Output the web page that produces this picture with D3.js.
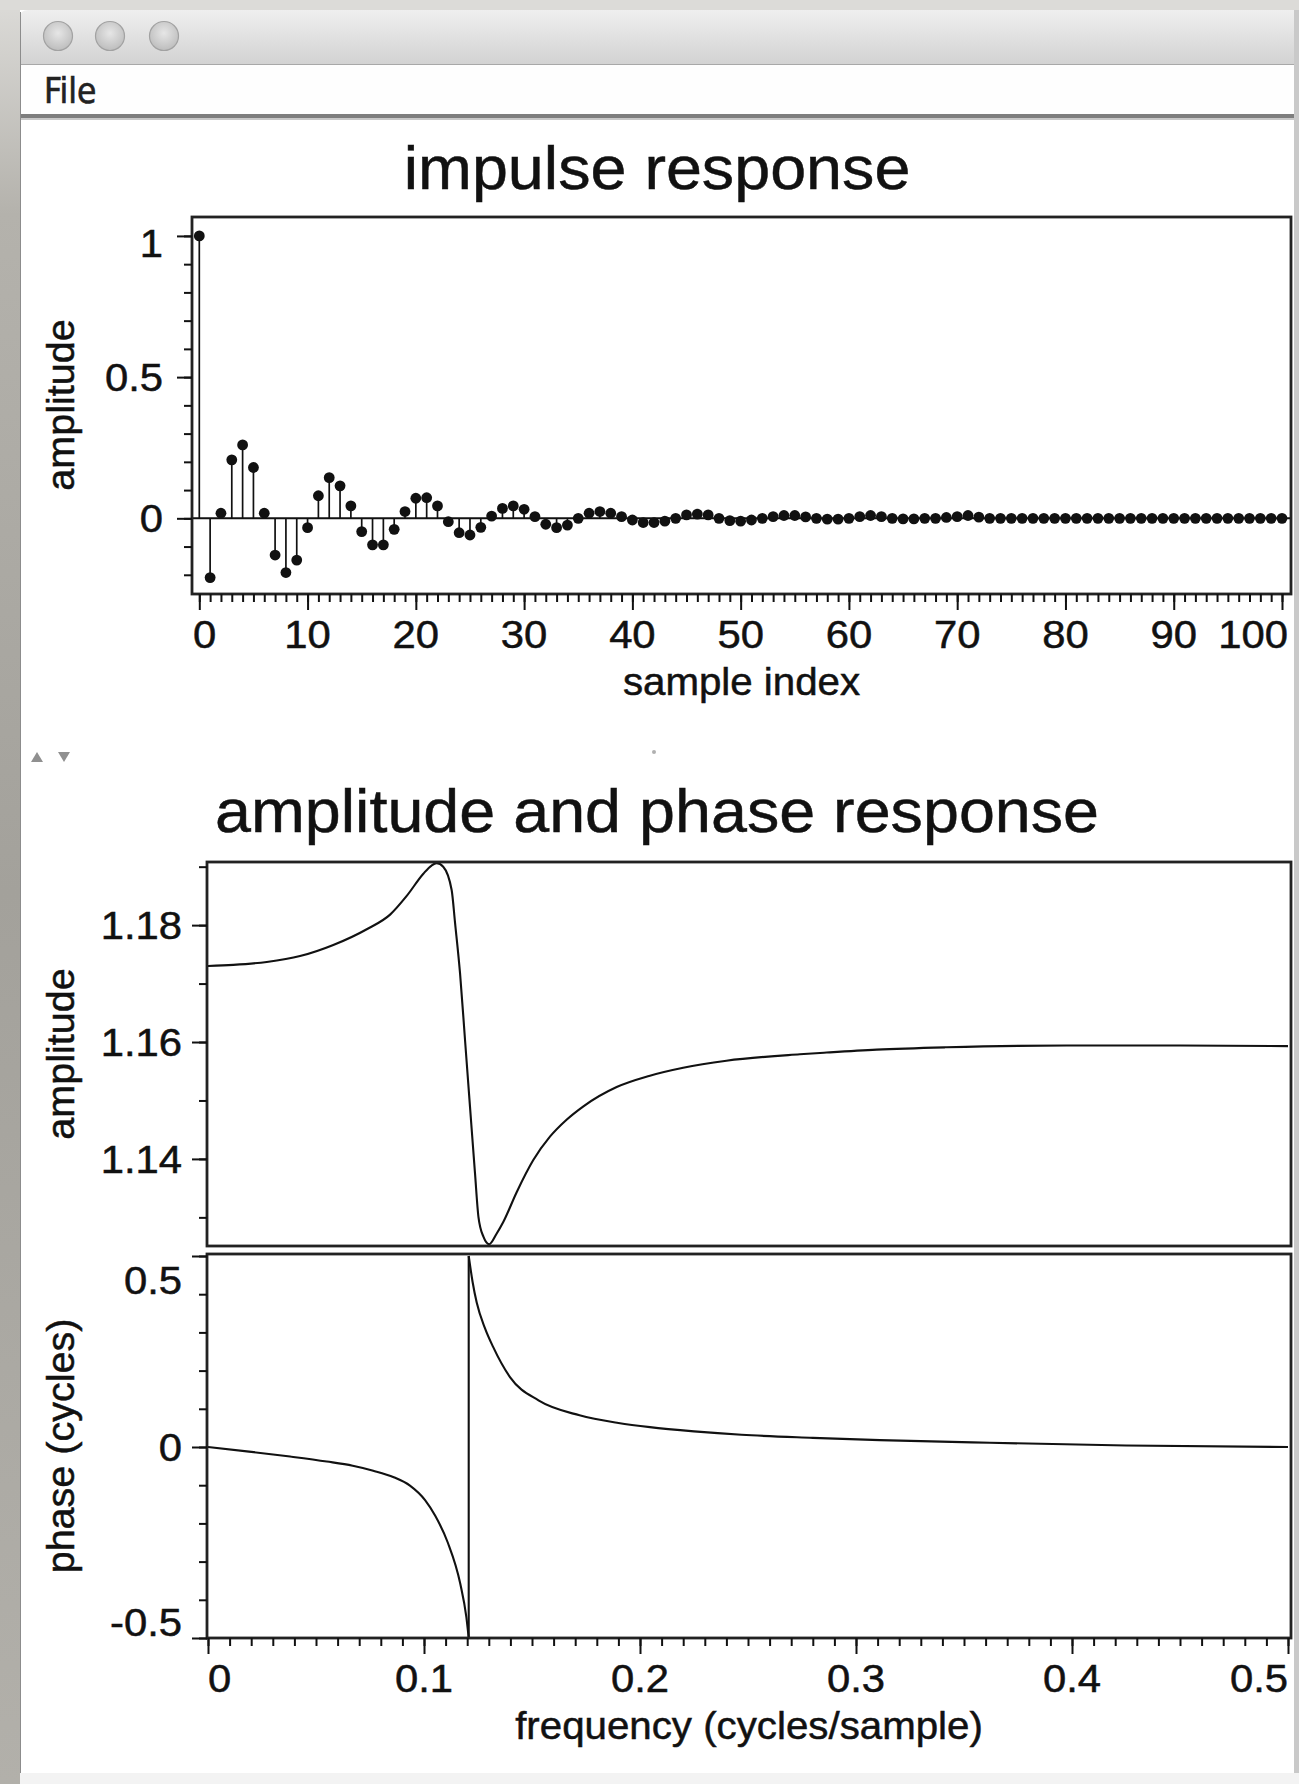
<!DOCTYPE html>
<html>
<head>
<meta charset="utf-8">
<script src="https://cdn.jsdelivr.net/npm/d3@7"></script>
<style>
  html, body { margin: 0; padding: 0; background: #fff; }
  svg { display: block; }
</style>
</head>
<body>
<div id="chart"></div>
<script>
// ---- impulse response (sample 0..100) ----
const sampleIdx = d3.range(0, 101);
const impulse = [
  1.0, -0.21, 0.018, 0.207, 0.26, 0.18, 0.018, -0.13, -0.192, -0.148,
  -0.033, 0.08, 0.144, 0.115, 0.044, -0.047, -0.094, -0.094, -0.039, 0.024,
  0.071, 0.073, 0.044, -0.012, -0.051, -0.059, -0.032, 0.008, 0.035, 0.044,
  0.032, 0.006, -0.021, -0.033, -0.024, 0.0, 0.018, 0.024, 0.018, 0.006,
  -0.006, -0.015, -0.015, -0.01, 0.0, 0.012, 0.015, 0.012, 0.0, -0.008,
  -0.01, -0.006, 0.0, 0.006, 0.01, 0.01, 0.005, 0.0, -0.003, -0.003,
  0.0, 0.006, 0.01, 0.006, 0.0, -0.002, -0.002, 0.0, 0.0, 0.003,
  0.006, 0.01, 0.004, 0.0, 0.0, 0.0, 0.0, 0.0, 0.0, 0.0,
  0.0, 0.0, 0.0, 0.0, 0.0, 0.0, 0.0, 0.0, 0.0, 0.0,
  0.0, 0.0, 0.0, 0.0, 0.0, 0.0, 0.0, 0.0, 0.0, 0.0, 0.0
];
const impulseYMajor = [0, 0.5, 1];
const impulseYMinor = [-0.2, -0.1, 0, 0.1, 0.2, 0.3, 0.4, 0.5, 0.6, 0.7, 0.8, 0.9, 1.0];
const impulseXMajor = [0, 10, 20, 30, 40, 50, 60, 70, 80, 90, 100];

// ---- amplitude response ----
const ampFreq = [0, 0.0117, 0.0272, 0.0426, 0.058, 0.0735, 0.0843, 0.092, 0.0997, 0.1035,
  0.1059, 0.1089, 0.1128, 0.1144, 0.1167, 0.119, 0.1213, 0.1236, 0.1252, 0.1275,
  0.1302, 0.1336, 0.1367, 0.1429, 0.1506, 0.1583, 0.166, 0.1738, 0.1892, 0.2042,
  0.22, 0.24, 0.274, 0.2864, 0.3096, 0.342, 0.3975, 0.45, 0.5];
const ampValue = [1.1730, 1.1732, 1.1737, 1.1747, 1.1766, 1.1793, 1.1818, 1.1850, 1.1888, 1.1902,
  1.1906, 1.1900, 1.1860, 1.1803, 1.1717, 1.1603, 1.1489, 1.1376, 1.1301, 1.1267,
  1.1254, 1.1272, 1.1292, 1.1343, 1.1398, 1.1438, 1.1467, 1.1490, 1.1523, 1.1542,
  1.1556, 1.1568, 1.1579, 1.1582, 1.1587, 1.1591, 1.1594, 1.1594, 1.1593];
const ampYMajor = [1.14, 1.16, 1.18];
const ampYMinor = [1.13, 1.14, 1.15, 1.16, 1.17, 1.18, 1.19];

// ---- phase response (two branches, wrapped at +-0.5 cycles) ----
const phaseFreqA = [0, 0.019, 0.038, 0.055, 0.067, 0.0765, 0.086, 0.0935, 0.1005, 0.1052, 0.111, 0.1168, 0.1196, 0.1207];
const phaseA = [0, -0.012, -0.025, -0.038, -0.049, -0.062, -0.079, -0.101, -0.139, -0.180, -0.25, -0.358, -0.445, -0.5];
const phaseFreqB = [0.1207, 0.1225, 0.1244, 0.1283, 0.132, 0.1398, 0.153, 0.172, 0.19, 0.2046, 0.225, 0.247, 0.28, 0.311, 0.362, 0.425, 0.5];
const phaseB = [0.5, 0.432, 0.378, 0.31, 0.262, 0.183, 0.122, 0.083, 0.063, 0.052, 0.041, 0.032, 0.024, 0.018, 0.011, 0.004, 0.0];
const phaseYMajor = [-0.5, 0, 0.5];
const phaseYMinor = [-0.5, -0.4, -0.3, -0.2, -0.1, 0, 0.1, 0.2, 0.3, 0.4, 0.5];
const freqMajor = [0, 0.1, 0.2, 0.3, 0.4, 0.5];
const freqMinor = d3.range(0, 51).map(i => i / 100);

const W = 1299, H = 1784;
const FONT = "'Liberation Sans', Arial, Helvetica, sans-serif";
const INK = "#111";

const svg = d3.select("#chart").append("svg")
  .attr("width", W).attr("height", H);

// ---------- window chrome ----------
const defs = svg.append("defs");
const desk = defs.append("linearGradient").attr("id", "desk").attr("x1", 0).attr("y1", 0).attr("x2", 0).attr("y2", 1);
desk.append("stop").attr("offset", 0).attr("stop-color", "#dcdbd8");
desk.append("stop").attr("offset", 0.12).attr("stop-color", "#b4b2ac");
desk.append("stop").attr("offset", 0.5).attr("stop-color", "#a3a19b");
desk.append("stop").attr("offset", 1).attr("stop-color", "#b2b0aa");
const bar = defs.append("linearGradient").attr("id", "bar").attr("x1", 0).attr("y1", 0).attr("x2", 0).attr("y2", 1);
bar.append("stop").attr("offset", 0).attr("stop-color", "#efefef");
bar.append("stop").attr("offset", 1).attr("stop-color", "#d2d2d2");
const knob = defs.append("radialGradient").attr("id", "knob").attr("cx", 0.5).attr("cy", 0.4).attr("r", 0.6);
knob.append("stop").attr("offset", 0).attr("stop-color", "#e6e6e6");
knob.append("stop").attr("offset", 1).attr("stop-color", "#bdbdbd");

svg.append("rect").attr("width", W).attr("height", H).attr("fill", "#fff");
svg.append("rect").attr("x", 0).attr("y", 0).attr("width", 20).attr("height", H).attr("fill", "url(#desk)");
svg.append("rect").attr("x", 0).attr("y", 0).attr("width", W).attr("height", 10).attr("fill", "#dcdbd8");
svg.append("path")
  .attr("d", `M20,65 L20,18 Q20,10 28,10 L${W},10 L${W},65 Z`)
  .attr("fill", "url(#bar)");
svg.append("line").attr("x1", 20).attr("x2", W).attr("y1", 64.5).attr("y2", 64.5).attr("stroke", "#a8a8a8");
[58, 110, 164].forEach(cx => {
  svg.append("circle").attr("cx", cx).attr("cy", 36).attr("r", 14.5)
    .attr("fill", "url(#knob)").attr("stroke", "#a2a2a2").attr("stroke-width", 1.2);
});
svg.append("rect").attr("x", 20).attr("y", 65).attr("width", W - 20).attr("height", 49).attr("fill", "#fefefe");
svg.append("text").attr("x", 44).attr("y", 103)
  .attr("font-family", "'DejaVu Sans Condensed', 'DejaVu Sans', sans-serif")
  .attr("font-size", 35).attr("fill", "#222")
  .attr("stroke", "#222").attr("stroke-width", 0.6)
  .text("File");
svg.append("rect").attr("x", 20).attr("y", 114).attr("width", W - 20).attr("height", 4).attr("fill", "#7e7e7e");
svg.append("rect").attr("x", 20).attr("y", 118).attr("width", W - 20).attr("height", 2).attr("fill", "#c8c8c8");
svg.append("line").attr("x1", 20.5).attr("x2", 20.5).attr("y1", 12).attr("y2", 1774).attr("stroke", "#8c8c8c");
svg.append("rect").attr("x", 1294).attr("y", 10).attr("width", 5).attr("height", 1764).attr("fill", "#c9c9c9");
svg.append("rect").attr("x", 20).attr("y", 1773).attr("width", W - 20).attr("height", 11).attr("fill", "#f3f3f3");
// splitter arrows
svg.append("path").attr("d", "M31,762 L37,752 L43,762 Z").attr("fill", "#909090");
svg.append("path").attr("d", "M58,752 L70,752 L64,762 Z").attr("fill", "#909090");
svg.append("circle").attr("cx", 654).attr("cy", 752).attr("r", 2).attr("fill", "#b0b0b0");

// ---------- helpers ----------
function addText(g, x, y, str, size, anchor, sx) {
  return g.append("text")
    .attr("transform", `translate(${x},${y}) scale(${sx},1)`)
    .attr("text-anchor", anchor)
    .attr("font-family", FONT)
    .attr("font-size", size)
    .attr("fill", INK)
    .attr("stroke", INK).attr("stroke-width", 0.5)
    .text(str);
}

const TICK_FS = 38, TICK_SX = 1.1;
// plain hyphen for negatives, as in the original
const numFmt = v => (v === 0 ? "0" : String(v));

function frameAxes(g, p) {
  g.append("g").attr("transform", `translate(${p.L},0)`)
    .call(d3.axisLeft(p.y).tickValues(p.yMinor).tickSize(8).tickFormat(""))
    .call(a => a.select(".domain").remove())
    .call(a => a.selectAll("line").attr("stroke", INK).attr("stroke-width", 2));
  g.append("g").attr("transform", `translate(${p.L},0)`)
    .call(d3.axisLeft(p.y).tickValues(p.yMajor).tickSize(15).tickFormat(""))
    .call(a => a.select(".domain").remove())
    .call(a => a.selectAll("line").attr("stroke", INK).attr("stroke-width", 2));
  // y labels, kept inside the frame's vertical span
  p.yMajor.forEach(v => {
    let base = p.y(v) + 0.358 * TICK_FS;
    if (base - 0.716 * TICK_FS < p.T + 13) base = p.T + 13 + 0.716 * TICK_FS;
    if (base > p.B - 2) base = p.B - 2;
    addText(g, p.L - p.labelGap, base, p.yFmt(v), TICK_FS, "end", TICK_SX);
  });
  if (p.xMinor) {
    g.append("g").attr("transform", `translate(0,${p.B})`)
      .call(d3.axisBottom(p.x).tickValues(p.xMinor).tickSize(8).tickFormat(""))
      .call(a => a.select(".domain").remove())
      .call(a => a.selectAll("line").attr("stroke", INK).attr("stroke-width", 2));
    g.append("g").attr("transform", `translate(0,${p.B})`)
      .call(d3.axisBottom(p.x).tickValues(p.xMajor).tickSize(16).tickFormat(""))
      .call(a => a.select(".domain").remove())
      .call(a => a.selectAll("line").attr("stroke", INK).attr("stroke-width", 2));
    p.xMajor.forEach(v => {
      const t = addText(g, 0, 0, p.xFmt(v), TICK_FS, "middle", TICK_SX);
      const w = t.node().getComputedTextLength() * TICK_SX;
      let cx = p.x(v);
      if (cx - w / 2 < p.L + 1) cx = p.L + 1 + w / 2;
      if (cx + w / 2 > p.R - 3) cx = p.R - 3 - w / 2;
      t.attr("transform", `translate(${cx},${p.B + 54}) scale(${TICK_SX},1)`);
    });
  }
}

function frameBox(g, p) {
  g.append("rect").attr("x", p.L).attr("y", p.T)
    .attr("width", p.R - p.L).attr("height", p.B - p.T)
    .attr("fill", "none").attr("stroke", "#222").attr("stroke-width", 2.8);
}

function yLabel(g, cy, str) {
  g.append("text")
    .attr("transform", `translate(74,${cy}) rotate(-90) scale(1.04,1)`)
    .attr("text-anchor", "middle")
    .attr("font-family", FONT).attr("font-size", 38).attr("fill", INK)
    .attr("stroke", INK).attr("stroke-width", 0.5)
    .text(str);
}

const g = svg.append("g");

// ---------- impulse response ----------
addText(g, 657, 189, "impulse response", 61, "middle", 1.06);

const P1 = {
  L: 192, R: 1291, T: 217, B: 594, labelGap: 29,
  x: d3.scaleLinear().domain([0, 100]).range([199.3, 1282]),
  y: d3.scaleLinear().domain([-0.268, 1.067]).range([594, 217]),
  yMajor: impulseYMajor, yMinor: impulseYMinor,
  xMajor: impulseXMajor, xMinor: sampleIdx,
  yFmt: numFmt, xFmt: numFmt
};
const imp = sampleIdx.map((i) => ({ n: i, v: impulse[i] }));
g.append("line")
  .attr("x1", P1.L).attr("x2", P1.R)
  .attr("y1", P1.y(0)).attr("y2", P1.y(0))
  .attr("stroke", INK).attr("stroke-width", 2);
g.append("g").selectAll("line").data(imp).join("line")
  .attr("x1", d => P1.x(d.n)).attr("x2", d => P1.x(d.n))
  .attr("y1", P1.y(0)).attr("y2", d => P1.y(d.v))
  .attr("stroke", INK).attr("stroke-width", 1.7);
g.append("g").selectAll("circle").data(imp).join("circle")
  .attr("cx", d => P1.x(d.n)).attr("cy", d => P1.y(d.v))
  .attr("r", 5.4).attr("fill", INK);
frameBox(g, P1);
frameAxes(g, P1);
addText(g, 741.5, 695, "sample index", 38, "middle", 1.06);
yLabel(g, 405, "amplitude");

// ---------- amplitude and phase ----------
addText(g, 657, 832, "amplitude and phase response", 61, "middle", 1.06);

const fx = d3.scaleLinear().domain([0, 0.5]).range([208, 1288]);

const P2 = {
  L: 207, R: 1291, T: 862, B: 1246, labelGap: 25,
  x: fx,
  y: d3.scaleLinear().domain([1.1251, 1.1908]).range([1246, 862]),
  yMajor: ampYMajor, yMinor: ampYMinor,
  yFmt: d3.format(".2f")
};
const ampData = ampFreq.map((f, i) => ({ f, v: ampValue[i] }));
g.append("path").datum(ampData)
  .attr("fill", "none").attr("stroke", INK).attr("stroke-width", 2.1)
  .attr("d", d3.line().x(d => fx(d.f)).y(d => P2.y(d.v)).curve(d3.curveMonotoneX));
frameBox(g, P2);
frameAxes(g, P2);
yLabel(g, 1054, "amplitude");

const P3 = {
  L: 207, R: 1291, T: 1254, B: 1638, labelGap: 25,
  x: fx,
  y: d3.scaleLinear().domain([-0.5, 0.5]).range([1638, 1256]),
  yMajor: phaseYMajor, yMinor: phaseYMinor,
  xMajor: freqMajor, xMinor: freqMinor,
  yFmt: numFmt, xFmt: numFmt
};
const phA = phaseFreqA.map((f, i) => ({ f, v: phaseA[i] }));
const phB = phaseFreqB.map((f, i) => ({ f, v: phaseB[i] }));
const phLine = d3.line().x(d => fx(d.f)).y(d => P3.y(d.v)).curve(d3.curveMonotoneX);
[phA, phB, [phA[phA.length - 1], phB[0]]].forEach(seg => {
  g.append("path").datum(seg)
    .attr("fill", "none").attr("stroke", INK).attr("stroke-width", 2.1)
    .attr("d", phLine);
});
frameBox(g, P3);
frameAxes(g, P3);
yLabel(g, 1446, "phase (cycles)");
addText(g, 749, 1739, "frequency (cycles/sample)", 38, "middle", 1.06);
</script>
</body>
</html>
